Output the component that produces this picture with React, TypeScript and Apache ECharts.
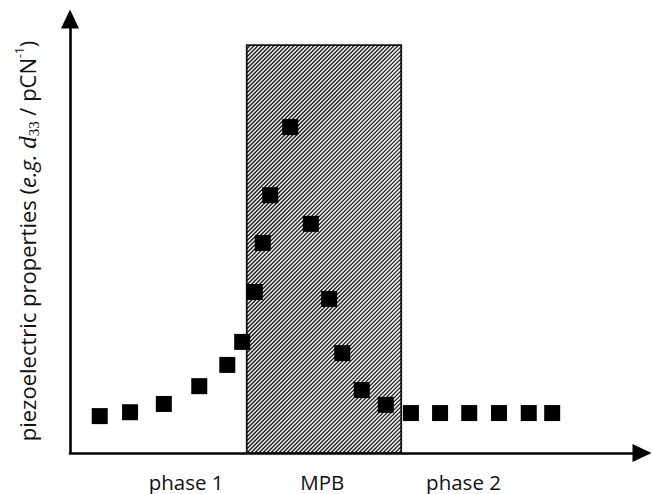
import React, { useEffect, useRef } from 'react';
import * as echarts from 'echarts';

const phaseLabels = ['phase 1', 'MPB', 'phase 2'];
const phaseLabelPositions = [20.3, 44.1, 68.8];
const compositionX = [5.2, 10.5, 16.4, 22.6, 27.5, 30.1, 32.3, 33.7, 35.0, 38.5, 42.1, 45.3, 47.6, 51.0, 55.2, 59.6, 64.7, 69.8, 75.0, 80.2, 84.3];
const piezoValues = [8.5, 9.4, 11.3, 15.4, 20.3, 25.6, 37.1, 48.4, 59.4, 75.1, 52.8, 35.5, 23.0, 14.5, 11.1, 9.2, 9.2, 9.2, 9.2, 9.2, 9.2];
const mpbStart = [30.9];
const mpbEnd = [57.9];
const mpbTop = [94.0];

export default function App() {
  const ref = useRef<HTMLDivElement>(null);
  useEffect(() => {
    if (!ref.current) return;
    const chart = echarts.init(ref.current, null, { renderer: 'svg' });
    const band = mpbStart.map((s, i) => [s, mpbEnd[i], mpbTop[i]]);
    const points = compositionX.map((x, i) => [x, piezoValues[i]]);
    const axisLine = {
      show: true,
      onZero: false,
      symbol: ['none', 'triangle'],
      symbolSize: [18, 19],
      lineStyle: { color: '#000', width: 2.6 },
    };
    const base = { fill: '#111', lineHeight: 28, verticalAlign: 'middle' };
    chart.setOption({
      animation: false,
      backgroundColor: '#ffffff',
      grid: { left: 70, right: 10, top: 19, bottom: 41, containLabel: false },
      xAxis: {
        type: 'value',
        min: 0,
        max: 100,
        axisLine,
        axisTick: { show: false },
        splitLine: { show: false },
        axisLabel: {
          show: true,
          customValues: phaseLabelPositions,
          formatter: (v: number) => {
            const idx = phaseLabelPositions.findIndex((p) => Math.abs(p - v) < 1e-6);
            return idx >= 0 ? phaseLabels[idx] : '';
          },
          margin: 18,
          color: '#111',
          fontSize: 20.5,
          fontFamily: 'Open Sans',
        },
      },
      yAxis: {
        type: 'value',
        min: 0,
        max: 100,
        axisLine,
        axisTick: { show: false },
        splitLine: { show: false },
        axisLabel: { show: false },
      },
      graphic: [
        {
          type: 'text',
          x: 27,
          y: 241,
          rotation: Math.PI / 2,
          style: {
            text: '{n|piezoelectric properties (}{i|e.g.}{n| }{d|d}{s|33}{n| / pCN}{p|-1}{n|)}',
            align: 'center',
            verticalAlign: 'middle',
            rich: {
              n: { ...base, fontFamily: 'Open Sans', fontSize: 22 },
              i: { ...base, fontFamily: 'Open Sans', fontStyle: 'italic', fontSize: 22 },
              d: { ...base, fontFamily: 'Liberation Serif', fontStyle: 'italic', fontSize: 25 },
              s: { fill: '#111', fontFamily: 'Liberation Serif', fontSize: 15, lineHeight: 15, verticalAlign: 'bottom' },
              p: { fill: '#111', fontFamily: 'Open Sans', fontSize: 12, lineHeight: 12, verticalAlign: 'top' },
            },
          },
        },
      ],
      series: [
        {
          type: 'custom',
          z: 1,
          clip: false,
          encode: { x: [0, 1], y: 2 },
          data: band,
          renderItem: (params: any, api: any) => {
            const p0 = api.coord([api.value(0), api.value(2)]);
            const p1 = api.coord([api.value(1), 0]);
            const x0 = p0[0], y0 = p0[1], x1 = p1[0], y1 = p1[1];
            const children: any[] = [
              { type: 'rect', shape: { x: x0, y: y0, width: x1 - x0, height: y1 - y0 }, style: { fill: '#f4f4f4' } },
            ];
            const step = 4;
            for (let c = x0 + y0; c <= x1 + y1; c += step) {
              const sx = Math.max(x0, c - y1);
              const ex = Math.min(x1, c - y0);
              if (ex <= sx) continue;
              children.push({
                type: 'line',
                shape: { x1: sx, y1: c - sx, x2: ex, y2: c - ex },
                style: { stroke: '#1a1a1a', lineWidth: 1.3 },
              });
            }
            children.push({
              type: 'rect',
              shape: { x: x0, y: y0, width: x1 - x0, height: y1 - y0 },
              style: { fill: 'none', stroke: '#111', lineWidth: 1.8 },
            });
            return { type: 'group', children };
          },
        },
        {
          type: 'scatter',
          z: 3,
          symbol: 'rect',
          symbolSize: 16,
          itemStyle: { color: '#000', opacity: 1 },
          data: points,
        },
      ],
    });
    return () => chart.dispose();
  }, []);
  return <div ref={ref} style={{ position: 'fixed', left: 0, top: 0, width: 652, height: 494 }} />;
}
